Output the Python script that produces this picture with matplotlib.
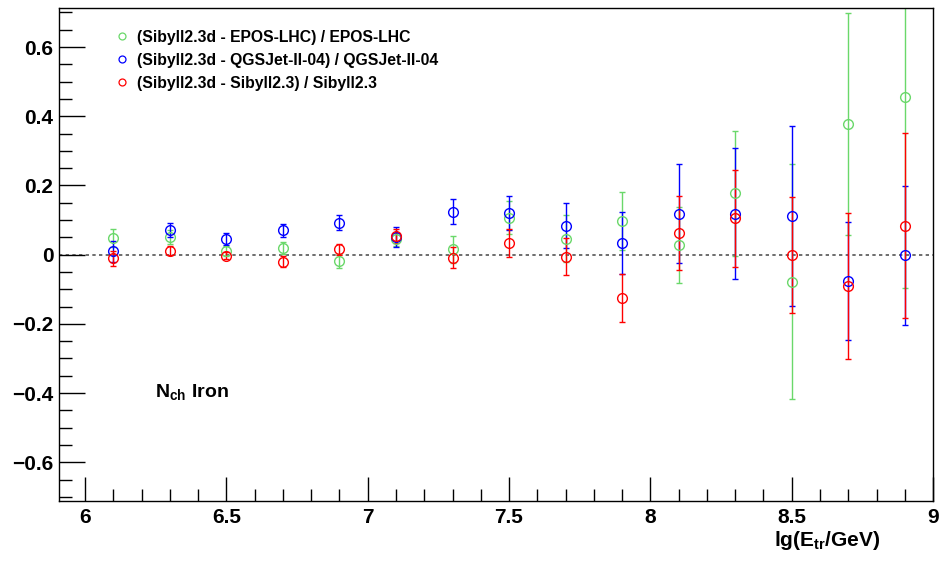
import numpy as np
import matplotlib.pyplot as plt
from matplotlib.lines import Line2D
from matplotlib.ticker import MultipleLocator

plt.rcParams['font.family'] = ['Liberation Sans', 'DejaVu Sans']
plt.rcParams['font.weight'] = 'bold'
plt.rcParams['mathtext.fontset'] = 'custom'
plt.rcParams['mathtext.rm'] = 'Liberation Sans:bold'
plt.rcParams['mathtext.it'] = 'Liberation Sans:bold'
plt.rcParams['mathtext.bf'] = 'Liberation Sans:bold'

lg_e = [6.1, 6.3, 6.5, 6.7, 6.9, 7.1, 7.3, 7.5, 7.7, 7.9, 8.1, 8.3, 8.5, 8.7, 8.9]

# (Sibyll2.3d - EPOS-LHC) / EPOS-LHC
epos_val = [0.047, 0.052, 0.010, 0.020, -0.019, 0.044, 0.015, 0.107, 0.046, 0.097,
            0.029, 0.177, -0.078, 0.378, 0.455]
epos_err = [0.026, 0.020, 0.015, 0.017, 0.020, 0.018, 0.040, 0.048, 0.068, 0.084,
            0.110, 0.180, 0.340, 0.320, 0.550]

# (Sibyll2.3d - QGSJet-II-04) / QGSJet-II-04
qgs_val = [0.010, 0.071, 0.046, 0.070, 0.092, 0.050, 0.124, 0.121, 0.083, 0.034,
           0.119, 0.119, 0.113, -0.076, -0.002]
qgs_err = [0.030, 0.020, 0.017, 0.020, 0.022, 0.029, 0.036, 0.050, 0.065, 0.090,
           0.142, 0.190, 0.260, 0.170, 0.200]

# (Sibyll2.3d - Sibyll2.3) / Sibyll2.3
sib_val = [-0.011, 0.012, -0.003, -0.020, 0.015, 0.054, -0.009, 0.034, -0.006, -0.126,
           0.063, 0.105, 0.000, -0.091, 0.084]
sib_err = [0.022, 0.012, 0.010, 0.015, 0.015, 0.020, 0.030, 0.041, 0.053, 0.070,
           0.107, 0.140, 0.168, 0.211, 0.268]

labels = ["(Sibyll2.3d - EPOS-LHC) / EPOS-LHC",
          "(Sibyll2.3d - QGSJet-II-04) / QGSJet-II-04",
          "(Sibyll2.3d - Sibyll2.3) / Sibyll2.3"]
colors = ["#6ad86a", "#0000ff", "#ff0000"]

fig = plt.figure(figsize=(9.4, 5.62), dpi=100)
ax = fig.add_axes([0.0628, 0.1085, 0.9298, 0.8773])

ax.axhline(0, color="#555555", lw=1.2, ls=(0, (2, 2)), zorder=1)

series = [(epos_val, epos_err), (qgs_val, qgs_err), (sib_val, sib_err)]
for (v, e), c in zip(series, colors):
    ax.errorbar(lg_e, v, yerr=e, fmt="o", mfc="none", mec=c, ecolor=c, color=c,
                ms=7, mew=1.0, elinewidth=1.0, capsize=2, capthick=1.0, zorder=2)

ax.set_xlim(5.908, 9.0)
ax.set_ylim(-0.712, 0.713)

ax.xaxis.set_major_locator(MultipleLocator(0.5))
ax.xaxis.set_minor_locator(MultipleLocator(0.1))
ax.yaxis.set_major_locator(MultipleLocator(0.2))
ax.yaxis.set_minor_locator(MultipleLocator(0.05))
ax.tick_params(axis="x", which="major", direction="in", length=17, width=1, labelsize=15, pad=5)
ax.tick_params(axis="x", which="minor", direction="in", length=8.5, width=1)
ax.tick_params(axis="y", which="major", direction="in", length=18.5, width=1, labelsize=15, pad=4)
ax.tick_params(axis="y", which="minor", direction="in", length=9.3, width=1)
ax.xaxis.set_major_formatter(plt.FuncFormatter(lambda x, p: f"{x:g}"))
ax.yaxis.set_major_formatter(plt.FuncFormatter(lambda y, p: f"{y:g}".replace("-", "\u2212")))

for s in ax.spines.values():
    s.set_linewidth(1.0)

handles = [Line2D([], [], ls="none", marker="o", mfc="none", mec=c, ms=5, mew=0.9) for c in colors]
ax.legend(handles, labels, loc="upper left", bbox_to_anchor=(0.05, 0.978), frameon=False,
          fontsize=11.3, handletextpad=0.5, labelspacing=0.5, handlelength=1.0,
          borderaxespad=0.3)

ax.text(0.11, 0.211, "N$_{ch}$ Iron", transform=ax.transAxes, fontsize=14, fontweight="bold")
fig.text(880 / 940, 1 - 540 / 562, "lg(E$_{tr}$/GeV)", ha="right", va="center", fontsize=15,
         fontweight="bold")

fig.savefig("out.png", dpi=100)
